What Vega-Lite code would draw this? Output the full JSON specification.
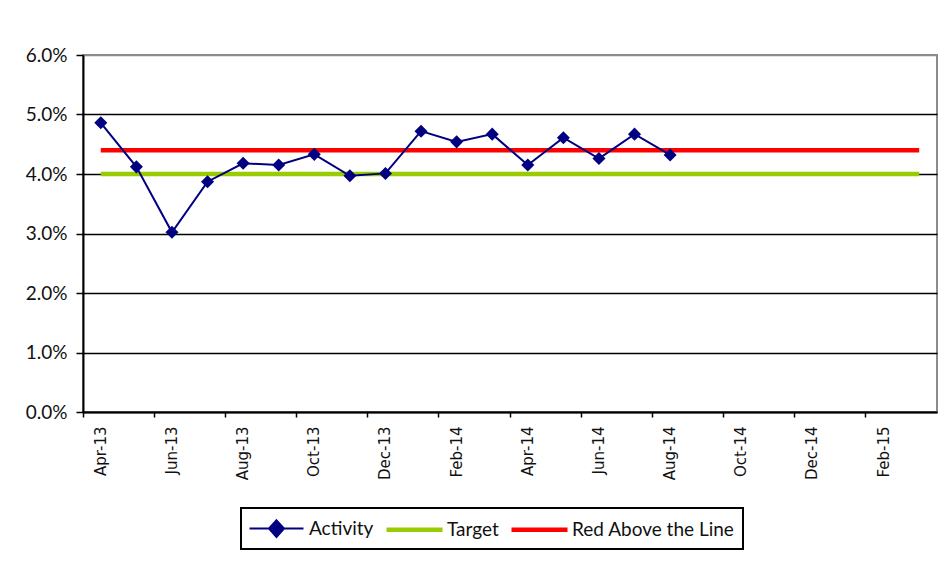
{
  "$schema": "https://vega.github.io/schema/vega-lite/v6.json",
  "width": 854,
  "height": 357,
  "autosize": {"type": "none"},
  "padding": {"left": 83, "top": 55, "right": 11, "bottom": 158},
  "background": "white",
  "config": {
    "font": "Lato",
    "view": {"stroke": "#8c8c8c", "strokeWidth": 2}
  },
  "data": {
    "values": [
      {"month": "Apr-13", "series": "Activity", "value": 0.0486},
      {"month": "May-13", "series": "Activity", "value": 0.0412},
      {"month": "Jun-13", "series": "Activity", "value": 0.0302},
      {"month": "Jul-13", "series": "Activity", "value": 0.0387},
      {"month": "Aug-13", "series": "Activity", "value": 0.0418},
      {"month": "Sep-13", "series": "Activity", "value": 0.0415},
      {"month": "Oct-13", "series": "Activity", "value": 0.0433},
      {"month": "Nov-13", "series": "Activity", "value": 0.0397},
      {"month": "Dec-13", "series": "Activity", "value": 0.0401},
      {"month": "Jan-14", "series": "Activity", "value": 0.0472},
      {"month": "Feb-14", "series": "Activity", "value": 0.0454},
      {"month": "Mar-14", "series": "Activity", "value": 0.0467},
      {"month": "Apr-14", "series": "Activity", "value": 0.0415},
      {"month": "May-14", "series": "Activity", "value": 0.0461},
      {"month": "Jun-14", "series": "Activity", "value": 0.0426},
      {"month": "Jul-14", "series": "Activity", "value": 0.0467},
      {"month": "Aug-14", "series": "Activity", "value": 0.0432},
      {"month": "Apr-13", "series": "Target", "value": 0.04},
      {"month": "May-13", "series": "Target", "value": 0.04},
      {"month": "Jun-13", "series": "Target", "value": 0.04},
      {"month": "Jul-13", "series": "Target", "value": 0.04},
      {"month": "Aug-13", "series": "Target", "value": 0.04},
      {"month": "Sep-13", "series": "Target", "value": 0.04},
      {"month": "Oct-13", "series": "Target", "value": 0.04},
      {"month": "Nov-13", "series": "Target", "value": 0.04},
      {"month": "Dec-13", "series": "Target", "value": 0.04},
      {"month": "Jan-14", "series": "Target", "value": 0.04},
      {"month": "Feb-14", "series": "Target", "value": 0.04},
      {"month": "Mar-14", "series": "Target", "value": 0.04},
      {"month": "Apr-14", "series": "Target", "value": 0.04},
      {"month": "May-14", "series": "Target", "value": 0.04},
      {"month": "Jun-14", "series": "Target", "value": 0.04},
      {"month": "Jul-14", "series": "Target", "value": 0.04},
      {"month": "Aug-14", "series": "Target", "value": 0.04},
      {"month": "Sep-14", "series": "Target", "value": 0.04},
      {"month": "Oct-14", "series": "Target", "value": 0.04},
      {"month": "Nov-14", "series": "Target", "value": 0.04},
      {"month": "Dec-14", "series": "Target", "value": 0.04},
      {"month": "Jan-15", "series": "Target", "value": 0.04},
      {"month": "Feb-15", "series": "Target", "value": 0.04},
      {"month": "Mar-15", "series": "Target", "value": 0.04},
      {"month": "Apr-13", "series": "Red Above the Line", "value": 0.044},
      {"month": "May-13", "series": "Red Above the Line", "value": 0.044},
      {"month": "Jun-13", "series": "Red Above the Line", "value": 0.044},
      {"month": "Jul-13", "series": "Red Above the Line", "value": 0.044},
      {"month": "Aug-13", "series": "Red Above the Line", "value": 0.044},
      {"month": "Sep-13", "series": "Red Above the Line", "value": 0.044},
      {"month": "Oct-13", "series": "Red Above the Line", "value": 0.044},
      {"month": "Nov-13", "series": "Red Above the Line", "value": 0.044},
      {"month": "Dec-13", "series": "Red Above the Line", "value": 0.044},
      {"month": "Jan-14", "series": "Red Above the Line", "value": 0.044},
      {"month": "Feb-14", "series": "Red Above the Line", "value": 0.044},
      {"month": "Mar-14", "series": "Red Above the Line", "value": 0.044},
      {"month": "Apr-14", "series": "Red Above the Line", "value": 0.044},
      {"month": "May-14", "series": "Red Above the Line", "value": 0.044},
      {"month": "Jun-14", "series": "Red Above the Line", "value": 0.044},
      {"month": "Jul-14", "series": "Red Above the Line", "value": 0.044},
      {"month": "Aug-14", "series": "Red Above the Line", "value": 0.044},
      {"month": "Sep-14", "series": "Red Above the Line", "value": 0.044},
      {"month": "Oct-14", "series": "Red Above the Line", "value": 0.044},
      {"month": "Nov-14", "series": "Red Above the Line", "value": 0.044},
      {"month": "Dec-14", "series": "Red Above the Line", "value": 0.044},
      {"month": "Jan-15", "series": "Red Above the Line", "value": 0.044},
      {"month": "Feb-15", "series": "Red Above the Line", "value": 0.044},
      {"month": "Mar-15", "series": "Red Above the Line", "value": 0.044}
    ]
  },
  "encoding": {
    "x": {
      "field": "month",
      "type": "ordinal",
      "scale": {
        "type": "band",
        "paddingInner": 0,
        "paddingOuter": 0,
        "domain": ["Apr-13","May-13","Jun-13","Jul-13","Aug-13","Sep-13","Oct-13","Nov-13","Dec-13","Jan-14","Feb-14","Mar-14","Apr-14","May-14","Jun-14","Jul-14","Aug-14","Sep-14","Oct-14","Nov-14","Dec-14","Jan-15","Feb-15","Mar-15"]
      },
      "axis": {
        "title": null,
        "values": ["Apr-13","Jun-13","Aug-13","Oct-13","Dec-13","Feb-14","Apr-14","Jun-14","Aug-14","Oct-14","Dec-14","Feb-15"],
        "bandPosition": 0,
        "labelAngle": -90,
        "labelAlign": "right",
        "labelBaseline": "middle",
        "labelFont": "DejaVu Sans",
        "labelFontSize": 15,
        "labelColor": "#111111",
        "labelPadding": 9,
        "domainColor": "black",
        "domainWidth": 2,
        "tickColor": "black",
        "tickWidth": 1.5,
        "tickSize": 5,
        "grid": false
      }
    },
    "y": {
      "field": "value",
      "type": "quantitative",
      "scale": {"domain": [0, 0.06]},
      "axis": {
        "title": null,
        "values": [0, 0.01, 0.02, 0.03, 0.04, 0.05, 0.06],
        "format": ".1%",
        "labelFont": "Lato",
        "labelFontSize": 19,
        "labelColor": "#111111",
        "labelPadding": 9,
        "domainColor": "black",
        "domainWidth": 2,
        "tickColor": "black",
        "tickWidth": 1.5,
        "tickSize": 7,
        "grid": true,
        "gridColor": {"condition": {"test": "datum.value >= 0.06", "value": "#8c8c8c"}, "value": "black"},
        "gridWidth": 1.5
      }
    },
    "color": {
      "field": "series",
      "type": "nominal",
      "scale": {
        "domain": ["Activity", "Target", "Red Above the Line"],
        "range": ["#000080", "#99CC00", "#FF0000"]
      },
      "legend": {
        "title": null,
        "orient": "none",
        "legendX": 158,
        "legendY": 453,
        "direction": "horizontal",
        "strokeColor": "black",
        "fillColor": "white",
        "padding": 8,
        "symbolSize": 400,
        "symbolType": "stroke",
        "symbolOffset": 15,
        "labelFont": "Lato",
        "labelFontSize": 19,
        "labelColor": "#111111",
        "labelOffset": 20,
        "columnPadding": 3,
        "labelLimit": 300,
        "encode": {
          "legend": {
            "update": {"strokeWidth": {"value": 2}}
          },
          "symbols": {
            "update": {
              "shape": {"signal": "(datum.value === 'Activity' ? 'M-2.7,0L2.7,0M0,-0.83L0.75,0L0,0.83L-0.75,0Z' : 'M-2.8,0L2.8,0')"},
              "strokeWidth": {"signal": "(datum.value === 'Activity' ? 2 : 4.5)"},
              "fill": {"signal": "(datum.value === 'Activity' ? '#000080' : 'transparent')"},
              "opacity": {"value": 1}
            }
          }
        }
      }
    }
  },
  "layer": [
    {
      "transform": [{"filter": "datum.series !== 'Activity'"}],
      "mark": {"type": "line", "strokeWidth": 4.5}
    },
    {
      "transform": [{"filter": "datum.series === 'Activity'"}],
      "mark": {
        "type": "line",
        "strokeWidth": 2,
        "point": {"shape": "diamond", "size": 170, "filled": true, "opacity": 1}
      }
    }
  ]
}
